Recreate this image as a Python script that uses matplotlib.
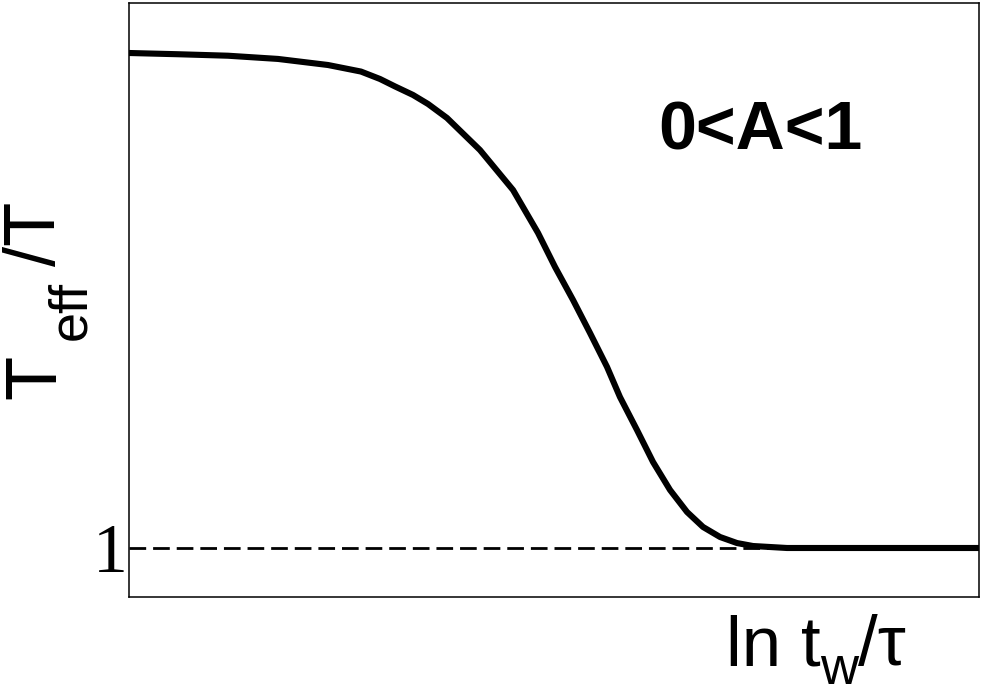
import matplotlib.pyplot as plt
import numpy as np

# curve (x: arbitrary ln tw/tau units, y: Teff/T, 1 = dashed line)
x_vals = [0.0, 0.576, 1.165, 1.753, 2.341, 2.729, 2.953, 3.129, 3.341, 3.518,
          3.741, 4.129, 4.518, 4.812, 5.012, 5.224, 5.424, 5.624, 5.776, 5.976,
          6.165, 6.365, 6.565, 6.753, 6.953, 7.153, 7.341, 7.541, 7.741, 10.0]
y_vals = [5.000, 4.990, 4.978, 4.952, 4.903, 4.850, 4.790, 4.730, 4.661, 4.588,
          4.475, 4.216, 3.893, 3.546, 3.271, 3.004, 2.737, 2.463, 2.220, 1.954,
          1.695, 1.469, 1.291, 1.170, 1.089, 1.040, 1.016, 1.008, 1.000, 1.000]
y_ref = 1.0
ytick_vals = [1]
ytick_labels = ["1"]

W, H = 985, 696
fig = plt.figure(figsize=(W / 100, H / 100), dpi=100)
ax = fig.add_axes([129 / W, 1 - 597 / H, 850 / W, 594 / H])

ax.axhline(y_ref, color="black", lw=2, dashes=(6, 2.5), zorder=1)
ax.plot(x_vals, y_vals, color="black", lw=4.4, solid_joinstyle="round",
        solid_capstyle="butt", zorder=2)

ax.set_xlim(0, 10)
ax.set_ylim(0.604, 5.404)
ax.set_xticks([])
ax.set_yticks(ytick_vals)
ax.set_yticklabels(ytick_labels, fontfamily="Liberation Serif", fontsize=50)
ax.tick_params(axis="y", length=0, pad=1)
for s in ax.spines.values():
    s.set_linewidth(1.1)


def px(x, y):
    return x / W, 1 - y / H


sans = "Liberation Sans"
# y label: T_eff /T written bottom-up
kw = dict(rotation=90, rotation_mode="anchor", ha="left", va="baseline",
          fontfamily=sans, color="black")
fig.text(*px(55, 399), "T", fontsize=52, **kw)
fig.text(*px(85, 340), "eff", fontsize=39, **kw)
fig.text(*px(55, 266), "/T", fontsize=52, **kw)

# x label: ln t_w/tau
kw2 = dict(ha="left", va="baseline", fontfamily=sans, color="black")
fig.text(*px(726, 665), "ln t", fontsize=51, **kw2)
fig.text(*px(820, 684), "w", fontsize=38, **kw2)
fig.text(*px(858, 665), "/\u03c4", fontsize=51, **kw2)

fig.text(*px(658, 149), "0<A<1", fontsize=49, fontweight="bold", **kw2)

fig.savefig("out.png", dpi=100)
